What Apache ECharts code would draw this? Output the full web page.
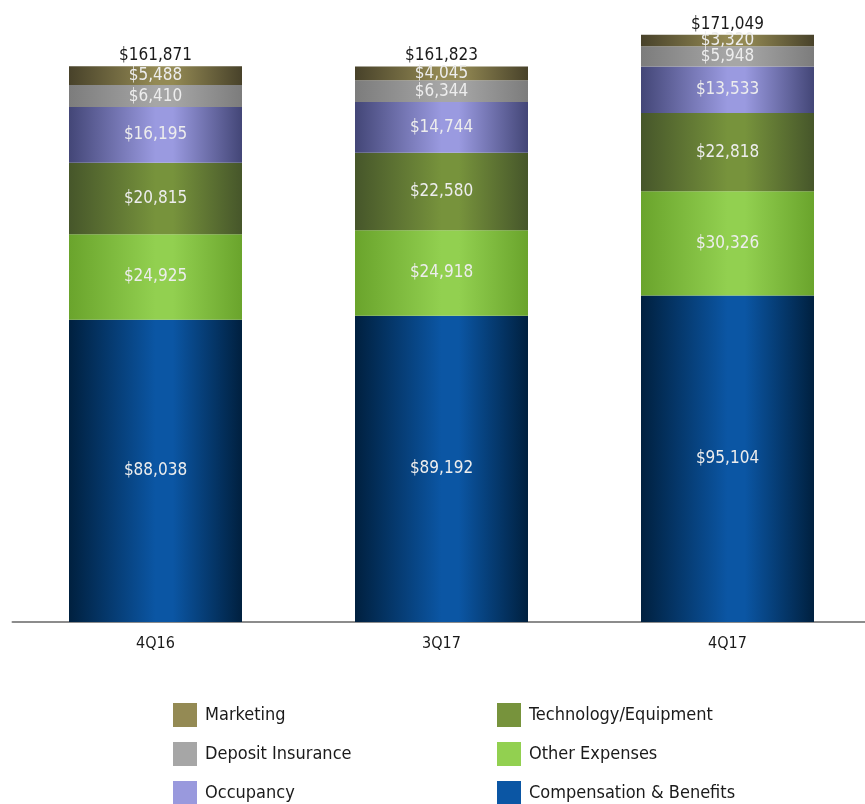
<!DOCTYPE html>
<html>
<head>
<meta charset="utf-8">
<script src="https://cdn.jsdelivr.net/npm/echarts@6/dist/echarts.min.js"></script>
<style>
    html, body { margin: 0; padding: 0; background: #fff; }
    #chart { width: 865px; height: 804px; }
</style>
</head>
<body>
<div id="chart"></div>
<script>
var quarters = ['4Q16', '3Q17', '4Q17'];
var compensation = [88038, 89192, 95104];
var otherExpenses = [24925, 24918, 30326];
var technology = [20815, 22580, 22818];
var occupancy = [16195, 14744, 13533];
var depositInsurance = [6410, 6344, 5948];
var marketing = [5488, 4045, 3320];

var totals = quarters.map(function (q, i) {
    return compensation[i] + otherExpenses[i] + technology[i] + occupancy[i] + depositInsurance[i] + marketing[i];
});

var font = 'DejaVu Sans Condensed';

function money(v) {
    return '$' + v.toLocaleString('en-US');
}

function shade(edge, mid) {
    return new echarts.graphic.LinearGradient(0, 0, 1, 0, [
        {offset: 0, color: edge},
        {offset: 0.5, color: mid},
        {offset: 0.6, color: mid},
        {offset: 1, color: edge}
    ]);
}

// bottom to top
var layers = [
    {name: 'Compensation & Benefits', data: compensation, edge: '#00203f', mid: '#0b56a4', solid: '#0b56a4'},
    {name: 'Other Expenses', data: otherExpenses, edge: '#6aa42c', mid: '#92d050', solid: '#92d050'},
    {name: 'Technology/Equipment', data: technology, edge: '#46562a', mid: '#77933c', solid: '#77933c'},
    {name: 'Occupancy', data: occupancy, edge: '#434677', mid: '#9a9ae0', solid: '#9999dd'},
    {name: 'Deposit Insurance', data: depositInsurance, edge: '#7c7c7c', mid: '#a6a6a6', solid: '#a6a6a6'},
    {name: 'Marketing', data: marketing, edge: '#48422a', mid: '#948a54', solid: '#948a54'}
];

var series = layers.map(function (l) {
    return {
        name: l.name,
        type: 'bar',
        stack: 'total',
        barWidth: 173,
        data: l.data,
        itemStyle: {color: shade(l.edge, l.mid)},
        label: {
            show: true,
            position: 'inside',
            color: '#ededed',
            fontFamily: font,
            fontSize: 17,
            formatter: function (p) { return money(p.value); }
        }
    };
});

series.push({
    name: 'Total',
    type: 'bar',
    stack: 'total',
    barWidth: 173,
    data: quarters.map(function () { return 0; }),
    itemStyle: {color: 'transparent'},
    label: {
        show: true,
        position: 'top',
        distance: 2,
        color: '#1a1a1a',
        fontFamily: font,
        fontSize: 17,
        formatter: function (p) { return money(totals[p.dataIndex]); }
    }
});

function legendItems(names) {
    return names.map(function (n) {
        var l = layers.filter(function (x) { return x.name === n; })[0];
        return {name: n, itemStyle: {color: l.solid}};
    });
}

var legendText = {color: '#1a1a1a', fontFamily: font, fontSize: 18, padding: [0, 0, 0, 3]};

var chart = echarts.init(document.getElementById('chart'));
chart.setOption({
    animation: false,
    grid: {left: 12.5, width: 858, top: 4, height: 618, outerBoundsMode: 'none'},
    legend: [
        {
            left: 173, top: 703, orient: 'vertical', itemGap: 15, height: 110, padding: 0,
            itemWidth: 24, itemHeight: 24, icon: 'rect',
            textStyle: legendText,
            data: legendItems(['Marketing', 'Deposit Insurance', 'Occupancy'])
        },
        {
            left: 497, top: 703, orient: 'vertical', itemGap: 15, height: 110, padding: 0,
            itemWidth: 24, itemHeight: 24, icon: 'rect',
            textStyle: legendText,
            data: legendItems(['Technology/Equipment', 'Other Expenses', 'Compensation & Benefits'])
        }
    ],
    xAxis: {
        type: 'category',
        data: quarters,
        axisLine: {lineStyle: {color: '#8c8c8c', width: 2}},
        axisTick: {show: false},
        axisLabel: {color: '#1a1a1a', fontFamily: font, fontSize: 16, margin: 14}
    },
    yAxis: {
        type: 'value',
        min: 0,
        max: 180000,
        show: false,
        splitLine: {show: false}
    },
    series: series
});
</script>
</body>
</html>
